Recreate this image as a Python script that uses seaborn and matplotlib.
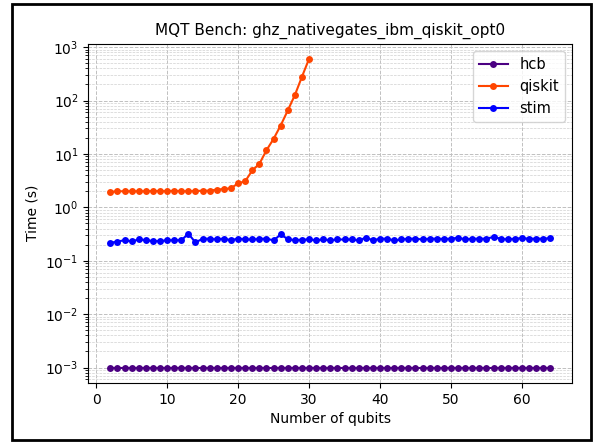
import matplotlib
matplotlib.use("Agg")
import matplotlib.pyplot as plt
from matplotlib.patches import Rectangle
import numpy as np
import pandas as pd
import seaborn as sns

qubits_hcb = list(range(2, 65))
time_hcb = [0.001] * len(qubits_hcb)

qubits_qiskit = list(range(2, 31))
time_qiskit = [1.94, 2.0, 2.0, 2.0, 2.0, 2.0, 2.02, 2.02, 2.0, 2.05, 2.0, 2.0, 2.02,
               2.05, 2.05, 2.15, 2.2, 2.27, 2.82, 3.07, 4.9, 6.5, 11.7, 19.1, 34.0,
               65.0, 126.0, 278.0, 600.0]

qubits_stim = list(range(2, 65))
time_stim = [0.217, 0.228, 0.243, 0.230, 0.250, 0.244, 0.233, 0.233, 0.242, 0.242,
             0.242, 0.320, 0.220, 0.258, 0.258, 0.250, 0.260, 0.242, 0.260, 0.250,
             0.250, 0.255, 0.260, 0.240, 0.310, 0.255, 0.242, 0.248, 0.250, 0.242,
             0.250, 0.242, 0.250, 0.250, 0.250, 0.240, 0.270, 0.242, 0.258, 0.258,
             0.240, 0.250, 0.258, 0.258, 0.250, 0.258, 0.258, 0.255, 0.258, 0.270,
             0.250, 0.258, 0.258, 0.258, 0.280, 0.258, 0.250, 0.258, 0.265, 0.258,
             0.258, 0.258, 0.265]

series_names = ["hcb", "qiskit", "stim"]
colors = {"hcb": "#4b0082", "qiskit": "#ff4500", "stim": "#0000ff"}

df = pd.concat([
    pd.DataFrame({"qubits": qubits_hcb, "time": time_hcb, "sim": "hcb"}),
    pd.DataFrame({"qubits": qubits_qiskit, "time": time_qiskit, "sim": "qiskit"}),
    pd.DataFrame({"qubits": qubits_stim, "time": time_stim, "sim": "stim"}),
])

plt.rcParams["font.family"] = ["DejaVu Sans"]
fig = plt.figure(figsize=(5.94, 4.44), dpi=100)
ax = fig.add_axes([0.1487, 0.1374, 0.9635 - 0.1487, 0.902 - 0.1374])

sns.lineplot(data=df, x="qubits", y="time", hue="sim", hue_order=series_names,
             palette=colors, marker="o", markersize=5, markeredgewidth=0,
             linewidth=1.5, ax=ax)
ax.set_yscale("log")
ax.grid(True, which="major", linestyle="--", color="#c0c0c0", linewidth=0.7)
ax.grid(True, which="minor", linestyle="--", color="#d0d0d0", linewidth=0.5)
ax.set_axisbelow(True)
ax.set_title("MQT Bench: ghz_nativegates_ibm_qiskit_opt0", fontsize=11)
ax.set_xlabel("Number of qubits", fontsize=10)
ax.set_ylabel("Time (s)", fontsize=10)
ax.legend(loc="upper right", fontsize=10.5)

fig.patches.append(Rectangle((12 / 594, 4 / 444), 579 / 594, 436 / 444,
                             transform=fig.transFigure, fill=False,
                             edgecolor="black", linewidth=2.0))

fig.savefig("out.png", dpi=100)
